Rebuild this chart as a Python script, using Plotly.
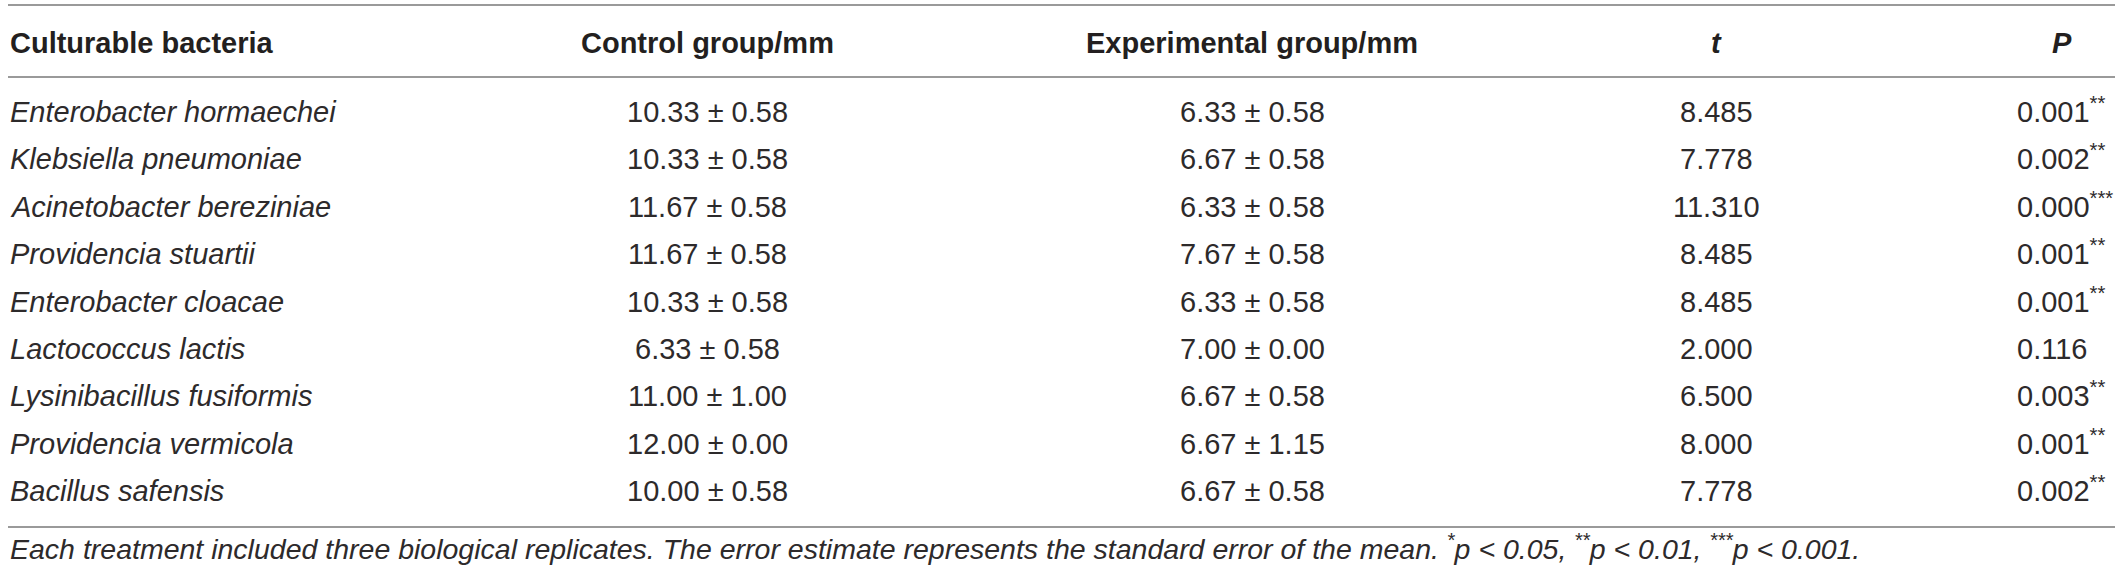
import plotly.graph_objects as go

# table content
headers = ["Culturable bacteria", "Control group/mm", "Experimental group/mm", "t", "P"]
bacteria = [
    "Enterobacter hormaechei",
    "Klebsiella pneumoniae",
    "Acinetobacter bereziniae",
    "Providencia stuartii",
    "Enterobacter cloacae",
    "Lactococcus lactis",
    "Lysinibacillus fusiformis",
    "Providencia vermicola",
    "Bacillus safensis",
]
control = ["10.33 ± 0.58", "10.33 ± 0.58", "11.67 ± 0.58", "11.67 ± 0.58", "10.33 ± 0.58",
           "6.33 ± 0.58", "11.00 ± 1.00", "12.00 ± 0.00", "10.00 ± 0.58"]
experimental = ["6.33 ± 0.58", "6.67 ± 0.58", "6.33 ± 0.58", "7.67 ± 0.58", "6.33 ± 0.58",
                "7.00 ± 0.00", "6.67 ± 0.58", "6.67 ± 1.15", "6.67 ± 0.58"]
t_values = ["8.485", "7.778", "11.310", "8.485", "8.485", "2.000", "6.500", "8.000", "7.778"]
p_values = ["0.001", "0.002", "0.000", "0.001", "0.001", "0.116", "0.003", "0.001", "0.002"]
p_stars = ["**", "**", "***", "**", "**", "", "**", "**", "**"]
footnote = ("<i>Each treatment included three biological replicates. The error estimate represents "
            "the standard error of the mean. <sup>*</sup>p &lt; 0.05, <sup>**</sup>p &lt; 0.01, "
            "<sup>***</sup>p &lt; 0.001.</i>")

W, H = 2120, 575
FONT = "Liberation Sans"
HEAD_COL = "#231f20"
TXT = "#2d2a2b"
RULE = "#9a9a9a"
SIZE = 29

col_x = [8, 707, 1252, 1716, 2062]
p_left = 2015
header_y = 42
row_y0, row_step = 111, 47.4
rules_y = [5, 77, 527]
foot_y = 548
drop = 19   # bottom-anchored text: box bottom sits this far below the text centre

fig = go.Figure()
fig.add_trace(go.Scatter(x=[0, W], y=[0, H], mode="markers", marker=dict(opacity=0),
                         hoverinfo="skip", showlegend=False))


def cell(x, y, text, anchor="center", size=SIZE, color=TXT):
    return dict(x=x, y=y + drop, text=text, xanchor=anchor, yanchor="bottom",
                showarrow=False, font=dict(size=size, color=color, family=FONT))


ann = []
head_fmt = ["<b>{}</b>", "<b>{}</b>", "<b>{}</b>", "<b><i>{}</i></b>", "<b><i>{}</i></b>"]
for i, h in enumerate(headers):
    ann.append(cell(col_x[i], header_y, head_fmt[i].format(h), "left" if i == 0 else "center",
                    color=HEAD_COL))

for r in range(len(bacteria)):
    y = row_y0 + r * row_step
    cells = [f"<i>{bacteria[r]}</i>", control[r], experimental[r], t_values[r]]
    for i, c in enumerate(cells):
        ann.append(cell(col_x[i], y, c, "left" if i == 0 else "center"))
    ptxt = p_values[r] + (f"<sup>{p_stars[r]}</sup>" if p_stars[r] else "")
    ann.append(cell(p_left, y, ptxt, "left"))

ann.append(cell(col_x[0], foot_y, footnote, "left", size=28.5))

shapes = [dict(type="line", x0=8, x1=2115, y0=y, y1=y, xref="x", yref="y",
               line=dict(color=RULE, width=2)) for y in rules_y]

fig.update_layout(
    width=W, height=H,
    margin=dict(l=0, r=0, t=0, b=0),
    paper_bgcolor="white", plot_bgcolor="white",
    xaxis=dict(range=[0, W], visible=False, fixedrange=True),
    yaxis=dict(range=[H, 0], visible=False, fixedrange=True),
    annotations=ann, shapes=shapes,
)

# drop the default page margin so the figure sits at the window's top-left corner
fig.write_html("out.html", config={"displayModeBar": False},
               post_script="document.body.style.margin='0';")
